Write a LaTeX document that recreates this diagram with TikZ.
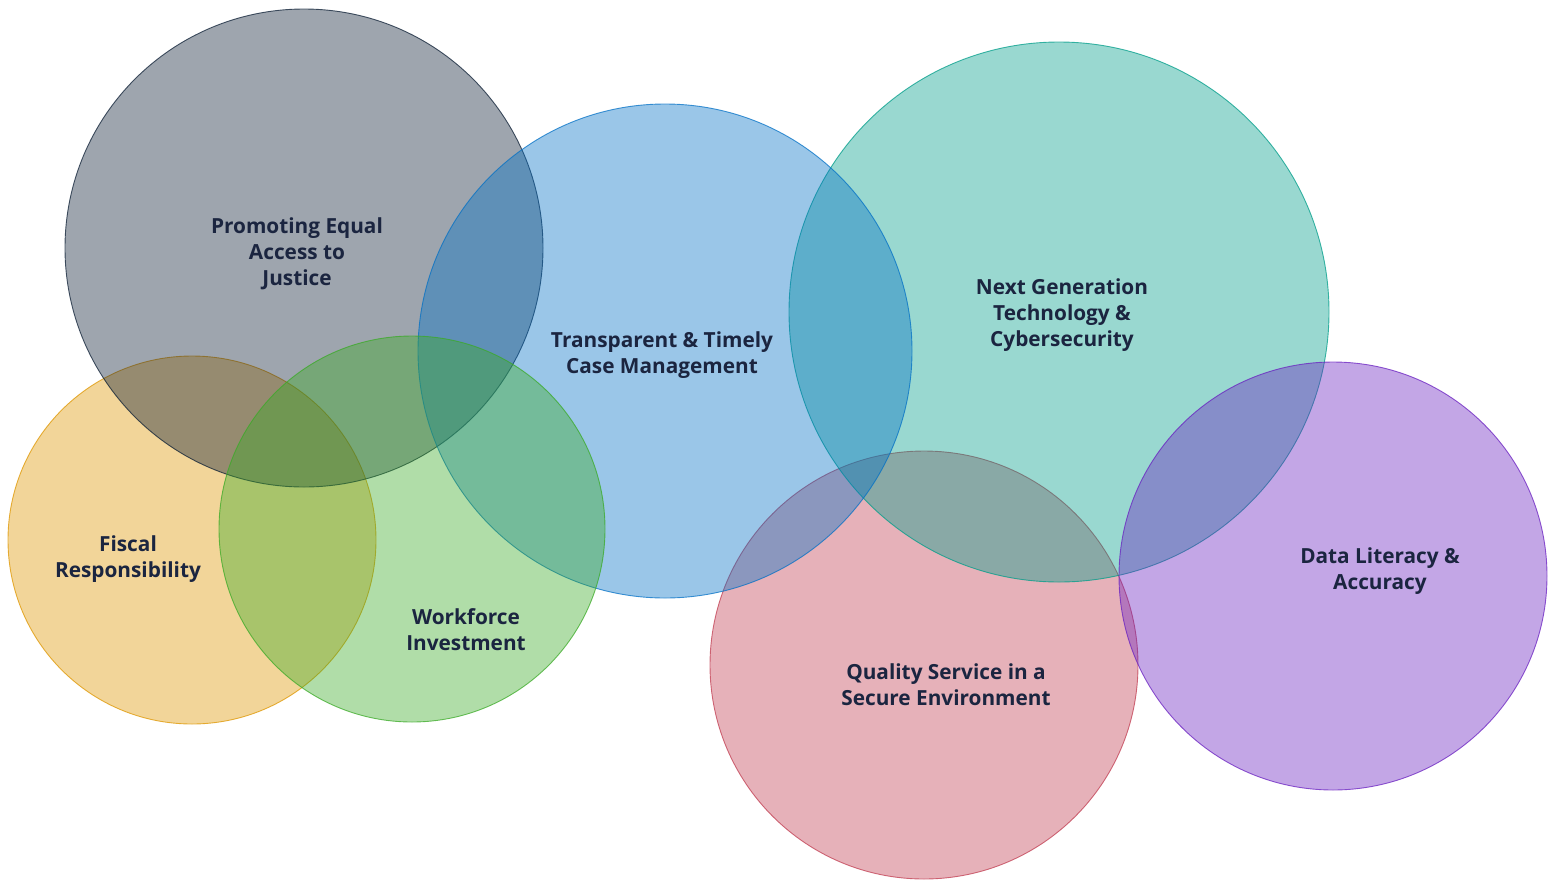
\documentclass[tikz,border=0pt]{standalone}
\usepackage{fontspec}
\setmainfont{Open Sans}
\definecolor{cgray}{RGB}{12,30,52}
\definecolor{cblue}{RGB}{2,112,197}
\definecolor{cteal}{RGB}{0,157,137}
\definecolor{cyel}{RGB}{222,150,0}
\definecolor{cgreen}{RGB}{58,170,38}
\definecolor{cpink}{RGB}{192,60,80}
\definecolor{cpurp}{RGB}{105,32,192}
\definecolor{txt}{RGB}{27,37,64}
\tikzset{
  bubble/.style={draw=#1, fill=#1, fill opacity=0.4, draw opacity=0.75, line width=0.9pt},
  lbl/.style={text=txt, font=\fontsize{20.8}{26}\selectfont\bfseries, align=center, inner sep=0pt}
}
\begin{document}
\begin{tikzpicture}[x=1pt,y=-1pt]
\useasboundingbox (0,0) rectangle (1556,879);
\path[bubble=cyel] (192,540) circle[radius=184];
\path[bubble=cgray] (304,248) circle[radius=239];
\path[bubble=cpink] (924,665) circle[radius=214];
\path[bubble=cteal] (1059,312) circle[radius=270];
\path[bubble=cblue] (665,351) circle[radius=247];
\path[bubble=cgreen] (412,529) circle[radius=193];
\path[bubble=cpurp] (1333,576) circle[radius=214];
\node[lbl] (equal) at (297,254) {Promoting Equal\\Access to\\Justice};
\node[lbl] (case) at (662,355) {Transparent \& Timely\\Case Management};
\node[lbl] (tech) at (1062,315) {Next Generation\\Technology \&\\Cybersecurity};
\node[lbl] (fiscal) at (128,559) {Fiscal\\Responsibility};
\node[lbl] (work) at (466,630) {Workforce\\Investment};
\node[lbl] (qual) at (946,685) {Quality Service in a\\Secure Environment};
\node[lbl] (data) at (1380,571) {Data Literacy \&\\Accuracy};
\end{tikzpicture}
\end{document}
